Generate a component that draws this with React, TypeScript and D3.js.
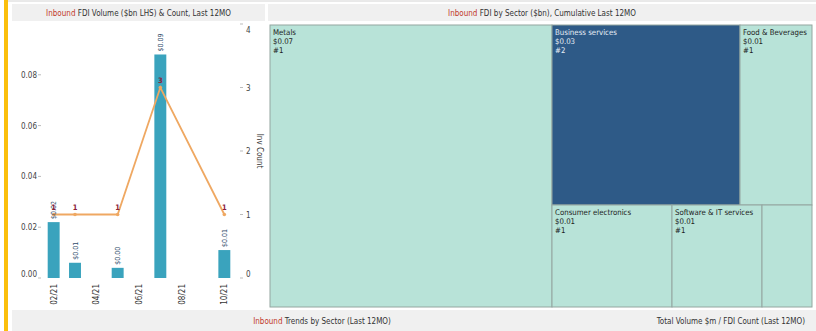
import React from "react";
import * as d3 from "d3";

// Monthly inbound FDI (last 12 months)
const months = ["02/21", "03/21", "04/21", "05/21", "06/21", "07/21", "08/21", "09/21", "10/21"];
const tickMonths = ["02/21", "04/21", "06/21", "08/21", "10/21"];
const activeMonths = ["02/21", "03/21", "05/21", "07/21", "10/21"];
const volumesBn = [0.022, 0.006, 0.004, 0.088, 0.011];
const counts = [1, 1, 1, 3, 1];
const volumeTicks = [0, 0.02, 0.04, 0.06, 0.08];
const countTicks = [0, 1, 2, 3, 4];

// Cumulative inbound FDI by sector
const sectorNames = ["Metals", "Business services", "Food & Beverages", "Consumer electronics", "Software & IT services", ""];
const sectorVolumes = [0.068, 0.029, 0.011, 0.0105, 0.0078, 0.0044];
const sectorCounts = [1, 2, 1, 1, 1, 1];
const highlightedSector = "Business services";

const FONT = "'Liberation Sans Narrow', 'DejaVu Sans Condensed', 'Roboto Condensed', Arial, sans-serif";
const W = 816;
const H = 331;

const fmtMoney = (v: number) => "$" + d3.format(".2f")(v);

function Title({ x, y, w, label }: { x: number; y: number; w: number; label: string }) {
  return (
    <g>
      <rect x={x} y={y} width={w} height={17} fill="#f0f0f0" />
      <text x={x + w / 2} y={y + 12} textAnchor="middle" fontSize={8} fill="#333" fontFamily={FONT}>
        <tspan fill="#c0392b">Inbound</tspan> {label}
      </text>
    </g>
  );
}

export default function App() {
  // Combo chart: bars = volume ($bn, left axis), line = investment count (right axis)
  const x = d3.scaleBand<string>().domain(months).range([43, 235]).paddingInner(0.44).paddingOuter(0.22);
  const yL = d3.scaleLinear().domain([0, 0.1]).range([278, 24]);
  const yR = d3.scaleLinear().domain([0, 4]).range([278, 24]);
  const cx = (m: string) => (x(m) ?? 0) + x.bandwidth() / 2;
  const clampLabel = (v: number) => Math.min(Math.max(v, 30), 274);

  const linePts: [number, number][] = activeMonths.map((m, i) => [cx(m), yR(counts[i])]);
  const line = d3.line()(linePts) ?? "";

  // Treemap of sectors
  const tmX = 270, tmY = 25, tmW = 542, tmH = 282;
  const root = d3
    .hierarchy({ children: sectorNames.map((n, i) => ({ name: n, value: sectorVolumes[i], count: sectorCounts[i] })) } as any)
    .sum((d: any) => d.value ?? 0)
    .sort((a, b) => (b.value ?? 0) - (a.value ?? 0));
  d3.treemap<any>().tile(d3.treemapSquarify).size([tmW, tmH]).round(true)(root);
  const leaves = root.leaves() as any[];

  return (
    <svg width={W} height={H} style={{ position: "absolute", left: 0, top: 0, background: "#fff" }} fontFamily={FONT}>
      <rect x={0} y={0} width={W} height={H} fill="#fff" />
      <line x1={8} x2={W} y1={1} y2={1} stroke="#d4d4d4" />
      <rect x={4} y={0} width={4} height={H} fill="#fbbf0c" />

      <Title x={12} y={4} w={253} label="FDI Volume ($bn LHS) & Count, Last 12MO" />
      <Title x={268} y={4} w={548} label="FDI by Sector ($bn), Cumulative Last 12MO" />

      {/* left axis */}
      {volumeTicks.map((t) => (
        <g key={"l" + t}>
          <line x1={38} x2={41} y1={yL(t)} y2={yL(t)} stroke="#bbb" />
          <text x={37} y={clampLabel(yL(t)) + 3} textAnchor="end" fontSize={8} fill="#444">
            {d3.format(".2f")(t)}
          </text>
        </g>
      ))}

      {/* right axis */}
      {countTicks.map((t) => (
        <g key={"r" + t}>
          <line x1={240} x2={243} y1={yR(t)} y2={yR(t)} stroke="#bbb" />
          <text x={246} y={clampLabel(yR(t)) + 3} fontSize={8} fill="#444">
            {t}
          </text>
        </g>
      ))}
      <text transform={`translate(257,${yR(2)}) rotate(90)`} textAnchor="middle" fontSize={8} fill="#333">
        Inv Count
      </text>

      {/* x axis */}
      {tickMonths.map((m) => (
        <text key={m} transform={`translate(${cx(m) + 3},284) rotate(-90)`} textAnchor="end" fontSize={8} fill="#333">
          {m}
        </text>
      ))}

      {/* bars */}
      {activeMonths.map((m, i) => (
        <rect key={"b" + m} x={x(m)} y={yL(volumesBn[i])} width={x.bandwidth()} height={yL(0) - yL(volumesBn[i])} fill="#3aa3bd" />
      ))}

      {/* count line */}
      <path d={line} fill="none" stroke="#efa862" strokeWidth={1.8} />
      {linePts.map(([px, py], i) => (
        <circle key={"p" + i} cx={px} cy={py} r={1.8} fill="#efa862" />
      ))}

      {/* bar value labels */}
      {activeMonths.map((m, i) => (
        <text key={"bl" + m} transform={`translate(${cx(m) + 2.5},${yL(volumesBn[i]) - 3}) rotate(-90)`} fontSize={7} fill="#2f4a6b">
          {fmtMoney(volumesBn[i])}
        </text>
      ))}
      {/* count labels */}
      {linePts.map(([px, py], i) => (
        <text key={"cl" + i} x={px} y={py - 5} textAnchor="middle" fontSize={7.5} fontWeight="bold" fill="#8b2038">
          {counts[i]}
        </text>
      ))}

      {/* treemap */}
      <g transform={`translate(${tmX},${tmY})`}>
        {leaves.map((lf, i) => {
          const dark = lf.data.name === highlightedSector;
          const w = lf.x1 - lf.x0;
          const h = lf.y1 - lf.y0;
          const tc = dark ? "#e6edf5" : "#222";
          return (
            <g key={"c" + i} transform={`translate(${lf.x0},${lf.y0})`}>
              <rect width={w} height={h} fill={dark ? "#2e5a87" : "#b8e3d8"} stroke="#94a6a0" strokeWidth={1} />
              {lf.data.name && (
                <text x={3} y={10} fontSize={7.8} fill={tc}>
                  <tspan x={3}>{lf.data.name}</tspan>
                  <tspan x={3} dy={9}>{fmtMoney(lf.data.value)}</tspan>
                  <tspan x={3} dy={9}>#{lf.data.count}</tspan>
                </text>
              )}
            </g>
          );
        })}
      </g>

      {/* footer */}
      <rect x={12} y={310} width={W - 12} height={21} fill="#f0f0f0" />
      <text x={322} y={324} textAnchor="middle" fontSize={8} fill="#333">
        <tspan fill="#c0392b">Inbound</tspan> Trends by Sector (Last 12MO)
      </text>
      <text x={805} y={324} textAnchor="end" fontSize={8} fill="#333">
        Total Volume $m / FDI Count (Last 12MO)
      </text>
    </svg>
  );
}
